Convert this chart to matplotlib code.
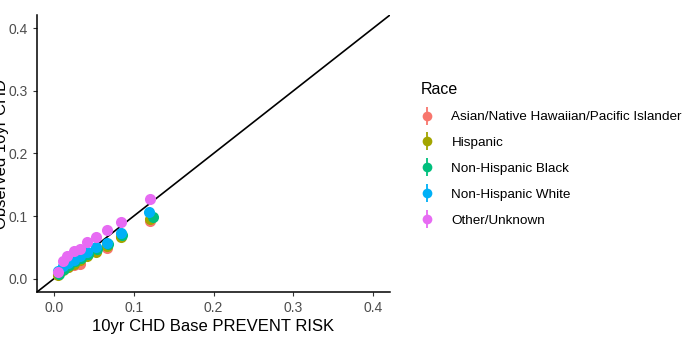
import matplotlib.pyplot as plt
from matplotlib.lines import Line2D
from matplotlib.legend_handler import HandlerTuple

plt.rcParams['font.family'] = ['Liberation Sans', 'DejaVu Sans']

races = ['Asian/Native Hawaiian/Pacific Islander', 'Hispanic',
         'Non-Hispanic Black', 'Non-Hispanic White', 'Other/Unknown']
colors = ['#F8766D', '#A3A500', '#00BF7D', '#00B0F6', '#E76BF3']

# predicted risk (deciles) and observed risk per race
x_asian = [0.005, 0.012, 0.018, 0.025, 0.033, 0.042, 0.053, 0.067, 0.084, 0.121]
y_asian = [0.007, 0.015, 0.018, 0.022, 0.024, 0.038, 0.045, 0.049, 0.068, 0.092]
x_hisp = [0.005, 0.012, 0.018, 0.025, 0.033, 0.042, 0.053, 0.067, 0.084, 0.121]
y_hisp = [0.006, 0.014, 0.019, 0.024, 0.030, 0.037, 0.043, 0.052, 0.066, 0.095]
x_black = [0.006, 0.013, 0.019, 0.026, 0.034, 0.043, 0.054, 0.068, 0.085, 0.124]
y_black = [0.008, 0.016, 0.022, 0.028, 0.033, 0.040, 0.047, 0.055, 0.070, 0.098]
x_white = [0.005, 0.012, 0.018, 0.025, 0.033, 0.042, 0.053, 0.067, 0.084, 0.119]
y_white = [0.012, 0.020, 0.025, 0.030, 0.036, 0.043, 0.050, 0.057, 0.073, 0.106]
x_other = [0.005, 0.011, 0.017, 0.025, 0.033, 0.042, 0.053, 0.067, 0.084, 0.120]
y_other = [0.011, 0.028, 0.037, 0.045, 0.048, 0.058, 0.066, 0.078, 0.091, 0.127]

xs = [x_asian, x_hisp, x_black, x_white, x_other]
ys = [y_asian, y_hisp, y_black, y_white, y_other]

fig = plt.figure(figsize=(7, 3.5), dpi=100)
ax = fig.add_axes([0.053, 0.166, 0.504, 0.791])

lim = (-0.021, 0.421)
ax.plot(lim, lim, color='black', lw=1.2, zorder=1)

handles = []
for name, c, x, y in zip(races, colors, xs, ys):
    ax.plot(x, y, 'o', color=c, markersize=8, markeredgewidth=0, zorder=2)
    bar = Line2D([], [], marker='|', color=c, markersize=13, markeredgewidth=1.3, linestyle='none')
    dot = Line2D([], [], marker='o', color=c, markersize=7, markeredgewidth=0, linestyle='none')
    handles.append((bar, dot))

ax.set_xlim(lim)
ax.set_ylim(lim)
ticks = [0.0, 0.1, 0.2, 0.3, 0.4]
ax.set_xticks(ticks)
ax.set_yticks(ticks)
ax.set_xticklabels(['0.0', '0.1', '0.2', '0.3', '0.4'])
ax.set_yticklabels(['0.0', '0.1', '0.2', '0.3', '0.4'])
ax.tick_params(colors='#333333', labelcolor='#4D4D4D', labelsize=10, length=3, width=0.8)
for s in ['top', 'right']:
    ax.spines[s].set_visible(False)
for s in ['left', 'bottom']:
    ax.spines[s].set_linewidth(1.1)

ax.set_xlabel('10yr CHD Base PREVENT RISK', fontsize=12, labelpad=3)
fig.text(0.002, 0.56, 'Observed 10yr CHD', rotation=90, ha='center', va='center', fontsize=12)

leg = fig.legend(handles, races, handler_map={tuple: HandlerTuple(ndivide=1)},
                 loc='upper left', bbox_to_anchor=(0.593, 0.78), frameon=False,
                 title='Race', fontsize=9.7, title_fontsize=11.5, handlelength=1.0,
                 labelspacing=1.0, handletextpad=1.3, borderaxespad=0)
leg._legend_box.align = 'left'

fig.savefig('out.png', dpi=100)
